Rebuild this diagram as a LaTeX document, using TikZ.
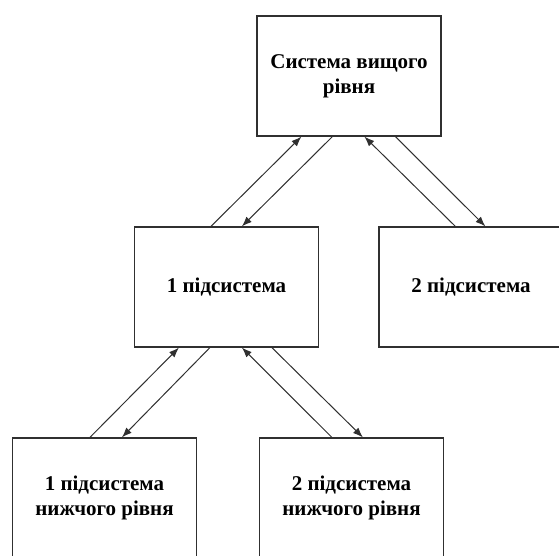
\documentclass[tikz,border=0pt]{standalone}
\usepackage{fontspec}
\setmainfont{Liberation Serif}
\usetikzlibrary{arrows.meta}
\definecolor{Edge}{HTML}{303030}
\tikzset{
  sysbox/.style={draw=Edge,line width=1.2pt,minimum width=184pt,minimum height=120pt,
    align=center,inner sep=0pt,font=\fontsize{21}{25}\selectfont\bfseries},
  link/.style={draw=Edge,line width=1pt,-{Latex[length=10pt,width=7.5pt]}}
}

\begin{document}
\begin{tikzpicture}[x=1pt,y=-1pt]
        \useasboundingbox(0,0)rectangle(559,555);
        \clip(0,0)rectangle(559,555);
        \node[sysbox](top)at(349,76){Система вищого\\рівня};
        \node[sysbox](mid1)at(226.5,287){1 підсистема};
        \node[sysbox](mid2)at(471,287){2 підсистема};
        \node[sysbox](low1)at(104.5,498){1 підсистема\\нижчого рівня};
        \node[sysbox](low2)at(351.5,498){2 підсистема\\нижчого рівня};
        % top level <-> first level
        \draw[link]([xshift=77pt]mid1.north west)--([xshift=45pt]top.south west);
        \draw[link]([xshift=76pt]top.south west)--([xshift=108pt]mid1.north west);
        \draw[link]([xshift=77pt]mid2.north west)--([xshift=108pt]top.south west);
        \draw[link]([xshift=139pt]top.south west)--([xshift=107pt]mid2.north west);
        % first level <-> lower level
        \draw[link]([xshift=78pt]low1.north west)--([xshift=45pt]mid1.south west);
        \draw[link]([xshift=76pt]mid1.south west)--([xshift=110pt]low1.north west);
        \draw[link]([xshift=73pt]low2.north west)--([xshift=108pt]mid1.south west);
        \draw[link]([xshift=138pt]mid1.south west)--([xshift=104pt]low2.north west);
      \end{tikzpicture}
\end{document}
